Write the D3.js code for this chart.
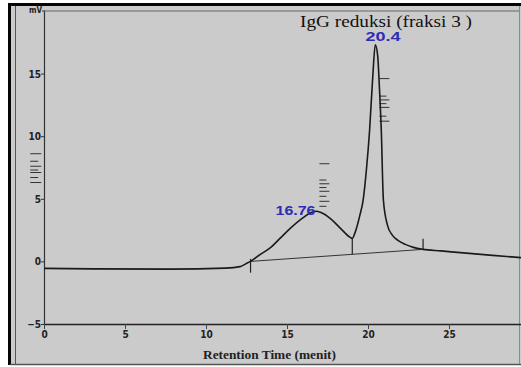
<!DOCTYPE html>
<html>
<head>
<meta charset="utf-8">
<script src="https://cdn.jsdelivr.net/npm/d3@7"></script>
<style>
  body { margin: 0; background: #fff; }
  svg { display: block; }
</style>
</head>
<body>
<div id="chart"></div>
<script>
// chromatogram trace (time in menit, signal in mV)
var traceTime = [0, 3, 7.8, 11.2, 12.1, 12.45, 12.75, 13.35, 14.0, 14.6, 15.2, 16.0, 16.5, 16.76, 17.1, 17.7, 18.3, 18.9, 19.03,
  19.2, 19.5, 19.7, 19.9, 20.1, 20.3, 20.45, 20.6, 20.7, 20.82, 20.95, 21.2, 21.5, 21.85, 22.3, 22.8, 23.4, 24.5, 25.7, 27.5, 30];
var traceValue = [-0.56, -0.6, -0.62, -0.54, -0.42, -0.2, 0.0, 0.56, 1.12, 1.88, 2.64, 3.5, 3.9, 4.0, 3.9, 3.4, 2.64, 1.92, 1.84,
  2.3, 3.7, 4.9, 7.3, 10.5, 14.9, 17.3, 16.4, 14.0, 10.5, 4.9, 2.9, 2.1, 1.68, 1.36, 1.12, 0.96, 0.84, 0.7, 0.5, 0.24];

// integration baseline and peak labels
var baseTime = [12.75, 23.4];
var baseValue = [0.0, 0.96];
var peakTime = [16.76, 20.4];
var peakLabel = ["16.76", "20.4"];

var xTicks = [0, 5, 10, 15, 20, 25];
var yTicks = [-5, 0, 5, 10, 15];

// hand marks on the print (mV)
var markLeftY = [8.6, 8.0, 7.6, 7.3, 7.1, 6.7, 6.3];
var markP1Y = [7.8, 6.5, 6.2, 5.9, 5.6, 5.2, 4.8, 4.4];
var markP2Y = [14.6, 13.2, 12.9, 12.6, 12.3, 11.6, 11.2];

var W = 521, H = 367;
var svg = d3.select("#chart").append("svg").attr("width", W).attr("height", H);

// scanned page
svg.append("rect").attr("x", 8).attr("y", 4).attr("width", W - 8).attr("height", 361).attr("fill", "#cbcbcb");
svg.append("rect").attr("x", 8).attr("y", 3).attr("width", W - 8).attr("height", 3).attr("fill", "#050505");
svg.append("rect").attr("x", 8).attr("y", 3).attr("width", 3).attr("height", 362).attr("fill", "#050505");
svg.append("line").attr("x1", 15.5).attr("x2", 15.5).attr("y1", 6).attr("y2", 364).attr("stroke", "#555").attr("stroke-width", 1);
svg.append("line").attr("x1", 10).attr("x2", W).attr("y1", 364.5).attr("y2", 364.5).attr("stroke", "#555").attr("stroke-width", 1.5);
svg.append("line").attr("x1", 519.5).attr("x2", 519.5).attr("y1", 6).attr("y2", 364).attr("stroke", "#8a8a8a").attr("stroke-width", 1);

var x = d3.scaleLinear().domain([0, 30]).range([44, 530]);
var y = d3.scaleLinear().domain([-5, 20]).range([324, 11]);

var tickFont = "'Liberation Sans Narrow', 'DejaVu Sans Condensed', sans-serif";

// frame top
svg.append("line").attr("x1", 44).attr("x2", 519).attr("y1", y(20)).attr("y2", y(20))
  .attr("stroke", "#666").attr("stroke-width", 1);

var gx = svg.append("g").attr("transform", "translate(0," + y(-5) + ")")
  .call(d3.axisBottom(x).tickValues(xTicks).tickSize(5).tickSizeOuter(0).tickFormat(d3.format("d")));
gx.select(".domain").attr("stroke", "#222").attr("stroke-width", 1.6);
gx.selectAll(".tick line").attr("stroke", "#444");
gx.selectAll("text").attr("font-family", tickFont).attr("font-weight", "bold").attr("font-size", 10)
  .attr("fill", "#222").attr("dy", "0.55em");

var gy = svg.append("g").attr("transform", "translate(44,0)")
  .call(d3.axisLeft(y).tickValues(yTicks).tickSize(3).tickSizeOuter(0).tickFormat(d3.format("d")));
gy.select(".domain").attr("stroke", "#333").attr("stroke-width", 1.2);
gy.selectAll(".tick line").attr("stroke", "#333");
gy.selectAll("text").attr("font-family", tickFont).attr("font-weight", "bold").attr("font-size", 10)
  .attr("fill", "#222").attr("x", -3).attr("dy", "0.35em");

svg.append("text").attr("x", 42).attr("y", 13).attr("text-anchor", "end")
  .attr("font-family", tickFont).attr("font-weight", "bold").attr("font-size", 8).attr("fill", "#222").text("mV");
svg.append("line").attr("x1", 42).attr("x2", 45).attr("y1", y(20)).attr("y2", y(20)).attr("stroke", "#333");

// hand marks
function marks(cls, tVal, vals, len) {
  svg.selectAll("." + cls).data(vals).enter().append("line").attr("class", cls)
    .attr("x1", x(tVal)).attr("x2", function (d, i) { return x(tVal) + len - (i % 2) * 3; })
    .attr("y1", function (d) { return y(d); }).attr("y2", function (d) { return y(d); })
    .attr("stroke", "#333").attr("stroke-width", 1);
}
marks("ml", -0.85, markLeftY, 11);
marks("m1", 17.0, markP1Y, 10);
marks("m2", 20.7, markP2Y, 10);

// baseline drawn under the peaks
var tb = d3.scaleLinear().domain(baseTime).range(baseValue);
svg.append("line").attr("x1", x(baseTime[0])).attr("y1", y(baseValue[0]))
  .attr("x2", x(baseTime[1])).attr("y2", y(baseValue[1]))
  .attr("stroke", "#333").attr("stroke-width", 1);
svg.append("line").attr("x1", x(baseTime[0])).attr("x2", x(baseTime[0]))
  .attr("y1", y(0.2)).attr("y2", y(-0.9)).attr("stroke", "#222").attr("stroke-width", 1.2);
svg.append("line").attr("x1", x(19.03)).attr("x2", x(19.03))
  .attr("y1", y(tb(19.03))).attr("y2", y(1.84)).attr("stroke", "#222").attr("stroke-width", 1.2);
svg.append("line").attr("x1", x(baseTime[1])).attr("x2", x(baseTime[1]))
  .attr("y1", y(baseValue[1])).attr("y2", y(1.8)).attr("stroke", "#222").attr("stroke-width", 1.2);

// trace
var pts = traceTime.map(function (t, i) { return [t, traceValue[i]]; });
var line = d3.line().x(function (d) { return x(d[0]); }).y(function (d) { return y(d[1]); })
  .curve(d3.curveMonotoneX);
svg.append("path").datum(pts).attr("d", line).attr("fill", "none")
  .attr("stroke", "#1a1a1a").attr("stroke-width", 1.6).attr("stroke-linejoin", "round");

// titles
svg.append("text").attr("x", 300).attr("y", 27).attr("font-family", "'Liberation Serif', serif")
  .attr("font-size", 16).attr("fill", "#111").attr("textLength", 172).attr("lengthAdjust", "spacingAndGlyphs")
  .text("IgG reduksi (fraksi 3 )");

svg.append("text").attr("x", 203).attr("y", 359).attr("font-family", "'Liberation Serif', serif")
  .attr("font-weight", "bold").attr("font-size", 11.5).attr("fill", "#222")
  .attr("textLength", 133).attr("lengthAdjust", "spacingAndGlyphs").text("Retention Time (menit)");

// peak retention labels
var labelPos = [{ dx: -40, v: 3.7, w: 40 }, { dx: -9, v: 17.6, w: 35 }];
svg.selectAll(".plab").data(peakLabel).enter().append("text").attr("class", "plab")
  .attr("x", function (d, i) { return x(peakTime[i]) + labelPos[i].dx; })
  .attr("y", function (d, i) { return y(labelPos[i].v); })
  .attr("font-family", "'Liberation Sans', Arial, sans-serif").attr("font-size", 12).attr("font-weight", "bold")
  .attr("fill", "#2c2cb4")
  .attr("textLength", function (d, i) { return labelPos[i].w; }).attr("lengthAdjust", "spacingAndGlyphs")
  .text(function (d) { return d; });
</script>
</body>
</html>
